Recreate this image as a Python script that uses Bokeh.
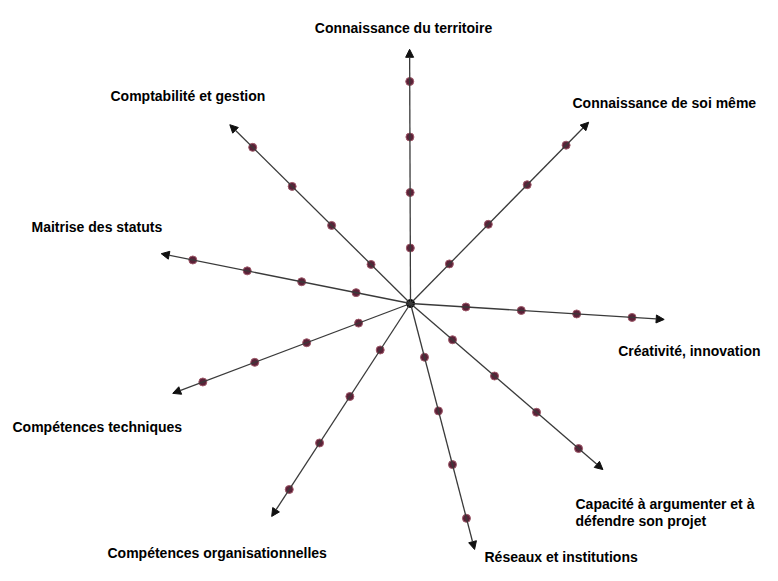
import math
from bokeh.plotting import figure
from bokeh.models import ColumnDataSource, Range1d, Arrow, NormalHead
from bokeh.core.properties import value
from bokeh.embed import file_html
from bokeh.resources import INLINE

# ---- data ----
categories = [
    "Connaissance du territoire",
    "Connaissance de soi même",
    "Créativité, innovation",
    "Capacité à argumenter et à\ndéfendre son projet",
    "Réseaux et institutions",
    "Compétences organisationnelles",
    "Compétences techniques",
    "Maitrise des statuts",
    "Comptabilité et gestion",
]
angles_deg = [90.2, 45.5, 356.4, 319.2, 284.6, 236.9, 200.7, 168.7, 135.3]
levels = [1, 2, 3, 4]
axis_max = 4.58

# ---- layout (picture pixels) ----
W, H = 762, 565
U = 55.5                 # pixels per level
CX, CY = 410, 303        # centre of the star

# label anchors: (x, baseline y, align)
label_layout = [
    (403, 27, "center"),
    (572, 102, "left"),
    (760, 350, "right"),
    (575, 503, "left"),
    (484, 556, "left"),
    (107, 552, "left"),
    (12, 426, "left"),
    (31, 226, "left"),
    (110, 95, "left"),
]
line_step = 17

p = figure(width=W, height=H, output_backend="svg", toolbar_location=None,
           x_range=Range1d(-CX / U, (W - CX) / U),
           y_range=Range1d(-(H - CY) / U, CY / U),
           min_border=0)
p.axis.visible = False
p.grid.visible = False
p.outline_line_color = None
p.background_fill_color = "white"
p.border_fill_color = "white"

# axes with arrow heads
x1 = [axis_max * math.cos(math.radians(a)) for a in angles_deg]
y1 = [axis_max * math.sin(math.radians(a)) for a in angles_deg]
asrc = ColumnDataSource(dict(x0=[0] * len(x1), y0=[0] * len(y1), x1=x1, y1=y1))
p.add_layout(Arrow(end=NormalHead(size=8, fill_color="#111111", line_color="#111111", line_width=1),
                   x_start="x0", y_start="y0", x_end="x1", y_end="y1",
                   source=asrc, line_color="#3a3a3a", line_width=1.3))

# level dots
dx, dy = [], []
for a in angles_deg:
    for lv in levels:
        dx.append(lv * math.cos(math.radians(a)))
        dy.append(lv * math.sin(math.radians(a)))
p.scatter(dx, dy, size=8, fill_color="#5a2238", line_color="#a05a6a", line_width=1)

# centre
p.scatter([0], [0], size=8, fill_color="black", line_color="black")

# labels
font = value("Liberation Sans")
for name, (lx, ly, al) in zip(categories, label_layout):
    for i, line in enumerate(name.split("\n")):
        p.text([(lx - CX) / U], [(CY - (ly + i * line_step)) / U], text=[line],
               text_font=font, text_font_size="14px", text_font_style="bold",
               text_color="black", text_align=al, text_baseline="alphabetic")

open("out.html", "w").write(file_html(p, INLINE))
